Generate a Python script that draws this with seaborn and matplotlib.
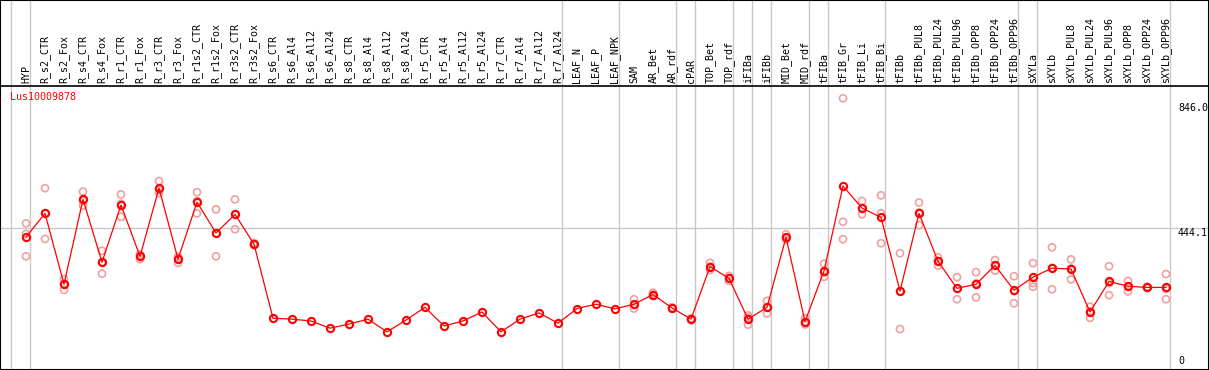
import numpy as np
import pandas as pd
import matplotlib
matplotlib.use("Agg")
import matplotlib.pyplot as plt
import matplotlib.transforms as mtransforms
from matplotlib.patches import Rectangle
import seaborn as sns

# sample names (x axis, written on top)
categories = ["HYP",
              "R_s2_CTR", "R_s2_Fox", "R_s4_CTR", "R_s4_Fox", "R_r1_CTR", "R_r1_Fox",
              "R_r3_CTR", "R_r3_Fox", "R_r1s2_CTR", "R_r1s2_Fox", "R_r3s2_CTR", "R_r3s2_Fox",
              "R_s6_CTR", "R_s6_Al4", "R_s6_Al12", "R_s6_Al24",
              "R_s8_CTR", "R_s8_Al4", "R_s8_Al12", "R_s8_Al24",
              "R_r5_CTR", "R_r5_Al4", "R_r5_Al12", "R_r5_Al24",
              "R_r7_CTR", "R_r7_Al4", "R_r7_Al12", "R_r7_Al24",
              "LEAF_N", "LEAF_P", "LEAF_NPK", "SAM", "AR_Bet", "AR_rdf", "cPAR",
              "TOP_Bet", "TOP_rdf", "iFIBa", "iFIBb", "MID_Bet", "MID_rdf", "tFIBa",
              "tFIB_Gr", "tFIB_Li", "tFIB_Bi", "tFIBb",
              "tFIBb_PUL8", "tFIBb_PUL24", "tFIBb_PUL96", "tFIBb_OPP8", "tFIBb_OPP24", "tFIBb_OPP96",
              "sXYLa", "sXYLb",
              "sXYLb_PUL8", "sXYLb_PUL24", "sXYLb_PUL96", "sXYLb_OPP8", "sXYLb_OPP24", "sXYLb_OPP96"]

# mean expression per sample
mean_vals = [416,
             492, 264, 537, 335, 519, 354, 573, 345, 528, 429, 489, 393,
             155, 152, 146, 123, 136, 152, 111, 149, 190, 130, 146, 175, 111, 152, 172, 139,
             186, 200, 185, 200, 231, 188, 152,
             321, 283, 152, 190, 415, 144, 307,
             580, 509, 479, 242,
             492, 338, 251, 264, 325, 245,
             287, 316,
             313, 175, 273, 258, 254, 254]

# replicates (None = single value only)
rep_a = [460, 573, 281, 562, 372, 553, 357, 596, 350, 560, 505, 537, 397] + [None] * 19 + \
        [216, 237, 190, 155, 333, 291, 164, 211, 425, 155, 330, 862, 532, 550, 364,
         527, 351, 287, 303, 342, 290, 332, 383, 344, 192, 322, 275, 256, 297]
rep_b = [426, 493, 265, 532, 335, 523, 345, 566, 333, 532, 428, 489, 390] + [None] * 19 + \
        [198, 231, 188, 152, 321, 284, 157, 190, 415, 143, 303, 465, 507, 492, 242,
         495, 339, 250, 267, 325, 242, 268, 317, 315, 177, 268, 258, 254, 249]
rep_c = [354, 410, 246, 517, 298, 481, 360, 557, 352, 492, 354, 441, 392] + [None] * 19 + \
        [186, 226, 186, 149, 310, 275, 134, 170, 408, 135, 288, 409, 489, 396, 120,
         454, 324, 216, 222, 308, 203, 256, 248, 280, 156, 229, 241, 252, 216]

# gray separators drawn just right of these sample indices
group_ends = [-1, 0, 28, 31, 34, 35, 37, 38, 39, 41, 42, 45, 52, 53, 60]

mean_df = pd.DataFrame({"pos": np.arange(len(categories)), "value": mean_vals})
rep_df = pd.DataFrame({"pos": np.tile(np.arange(len(categories)), 3),
                       "value": rep_a + rep_b + rep_c}).dropna()

W, H = 1209, 370
fig = plt.figure(figsize=(W / 100, H / 100), dpi=100)
ax_bottom, ax_top = 3.6, 284.5
ax = fig.add_axes([0, ax_bottom / H, 1, (ax_top - ax_bottom) / H])

mono = "DejaVu Sans Mono"
light = "#f0a0a0"

ax.axhline(444.1, color="#c8c8c8", lw=1, zorder=0)
ymax = (H - ax_bottom) / (ax_top - ax_bottom)
for g in group_ends:
    ax.axvline(g + 0.2, ymin=-0.02, ymax=ymax, clip_on=False, color="#c8c8c8", lw=1, zorder=0)

sns.scatterplot(data=rep_df, x="pos", y="value", ax=ax, marker="o", s=26,
                facecolor="none", edgecolor=light, linewidth=1.2, zorder=2, legend=False)
sns.lineplot(data=mean_df, x="pos", y="value", ax=ax, color="red", lw=0.9,
             marker="o", markersize=5.2, markerfacecolor="none", markeredgecolor="red",
             markeredgewidth=1.5, zorder=3)

ax.set_xlim(-26 / 19, (W - 26) / 19)
ax.set_ylim(0, (366.4 - 85.5) / 0.311)
ax.xaxis.tick_top()
ax.set_xticks(range(len(categories)))
ax.set_xticklabels(categories, rotation=90, fontsize=7.2, family=mono)
ax.tick_params(axis="x", length=0, pad=1.5)
ax.set_yticks([])
ax.set_xlabel("")
ax.set_ylabel("")
for sp in ax.spines.values():
    sp.set_color("black")
    sp.set_linewidth(1.2)
ax.spines["bottom"].set_visible(False)

trans = mtransforms.blended_transform_factory(fig.transFigure, ax.transData)
ax.text(1178 / W, 846.0, "846.0", transform=trans, va="top", ha="left", fontsize=7.2, family=mono)
ax.text(1178 / W, 444.1, "444.1", transform=trans, va="top", ha="left", fontsize=7.2, family=mono)
ax.text(1178 / W, 0, "0", transform=trans, va="bottom", ha="left", fontsize=7.2, family=mono)

fig.text(10 / W, 1 - 97 / H, "Lus10009878", color="red", va="center", ha="left",
         fontsize=7.2, family=mono)
fig.patches.append(Rectangle((0, 0), 1, 1, transform=fig.transFigure, fill=False,
                             edgecolor="black", lw=1.5))

fig.savefig("out.png", dpi=100)
